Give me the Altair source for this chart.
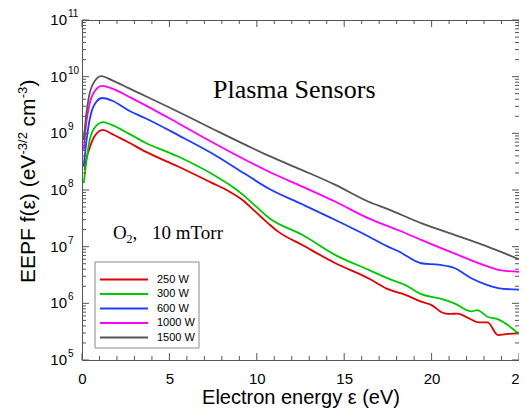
import altair as alt
import pandas as pd

# ---------------- data ----------------
series_names = ["250 W", "300 W", "600 W", "1000 W", "1500 W"]
series_colors = ["#e00000", "#00c800", "#1a3cff", "#ff00ff", "#555555"]

x_250 = [0.15, 0.25, 0.4, 0.7, 1.2, 1.7, 2.7, 3.6, 5.5, 7.4, 8.4, 9.2, 9.9, 10.7, 11.2, 12.6, 14.5,
         16.4, 17.5, 18.5, 19.4, 20.0, 20.6, 21.0, 21.5, 22.1, 22.7, 23.2, 23.8, 24.4, 25.0]
y_250 = [2.24e8, 3.55e8, 5.1e8, 8.7e8, 1.15e9, 9.8e8, 6.8e8, 4.8e8, 2.6e8, 1.35e8, 9.5e7, 6.6e7,
         4.2e7, 2.5e7, 1.86e7, 1.07e7, 5.1e6, 2.75e6, 1.78e6, 1.41e6, 1.07e6, 9.3e5, 6.9e5, 6.5e5,
         6.6e5, 5.5e5, 4.6e5, 4.6e5, 2.75e5, 2.9e5, 2.95e5]

x_300 = [0.1, 0.25, 0.4, 0.7, 1.2, 1.7, 2.7, 3.6, 5.5, 7.4, 8.4, 9.3, 9.9, 10.7, 12.6, 14.5, 16.4,
         17.5, 18.5, 19.4, 20.4, 21.3, 22.3, 22.6, 23.2, 23.8, 25.0]
y_300 = [1.32e8, 3.16e8, 6.6e8, 1.23e9, 1.58e9, 1.41e9, 9.8e8, 6.9e8, 3.9e8, 1.95e8, 1.26e8, 7.8e7,
         5.3e7, 3.2e7, 1.62e7, 7.1e6, 3.9e6, 2.75e6, 2.1e6, 1.45e6, 1.23e6, 1.0e6, 7.2e5, 7.6e5,
         5.8e5, 5.2e5, 2.9e5]

x_600 = [0.1, 0.25, 0.4, 0.7, 1.15, 1.7, 2.7, 3.6, 5.5, 7.4, 9.3, 10.7, 12.6, 14.5, 16.4,
         17.5, 18.1, 19.4, 20.4, 21.3, 22.3, 23.2, 23.8, 25.0]
y_600 = [2.6e8, 7.1e8, 1.51e9, 3.16e9, 4.2e9, 3.8e9, 2.5e9, 1.86e9, 9.3e8, 4.5e8, 1.95e8, 1.05e8,
         5.6e7, 2.95e7, 1.51e7, 1.0e7, 8.3e6, 5.1e6, 4.8e6, 4.2e6, 2.75e6, 2.1e6, 1.86e6, 1.74e6]

x_1000 = [0.1, 0.25, 0.4, 0.7, 1.15, 1.7, 2.7, 5.5, 7.4, 10.7, 12.6, 14.5, 16.4, 17.5, 18.1,
          19.4, 21.3, 23.2, 24.0, 25.0]
y_1000 = [5.1e8, 1.58e9, 2.95e9, 5.4e9, 6.9e9, 6.2e9, 4.4e9, 1.51e9, 7.1e8, 2.1e8, 1.15e8,
          6.2e7, 3.16e7, 2.3e7, 1.95e7, 1.32e7, 7.6e6, 4.5e6, 3.8e6, 3.6e6]

x_1500 = [0.1, 0.25, 0.4, 0.7, 1.1, 1.7, 2.7, 5.5, 7.4, 10.7, 12.6, 14.5, 16.4, 17.5, 19.4,
          21.3, 23.2, 25.0]
y_1500 = [7.6e8, 2.24e9, 4.5e9, 8.1e9, 1.02e10, 8.7e9, 6.2e9, 2.4e9, 1.23e9, 4.0e8, 2.24e8,
          1.23e8, 6.2e7, 4.6e7, 2.6e7, 1.62e7, 1.0e7, 6.0e6]

x_major_ticks = [0, 5, 10, 15, 20, 25]
x_minor_ticks = [v for v in range(0, 26) if v % 5 != 0]
y_exponents = [5, 6, 7, 8, 9, 10, 11]
y_major_ticks = [10.0 ** e for e in y_exponents]
y_minor_ticks = [k * 10.0 ** n for n in range(5, 11) for k in range(2, 10)]

# ---------------- build ----------------
rows = []
for name, xs, ys in zip(series_names,
                        [x_250, x_300, x_600, x_1000, x_1500],
                        [y_250, y_300, y_600, y_1000, y_1500]):
    for a, b in zip(xs, ys):
        rows.append({"energy": a, "eepf": b, "series": name})
df = pd.DataFrame(rows)

W, H = 437, 340
SANS = "Liberation Sans, Arial, sans-serif"
SERIF = "Liberation Serif, Times New Roman, serif"
FRAME = "#555555"

x_scale = alt.Scale(domain=[0, 25], nice=False, zero=False)
y_scale = alt.Scale(type="log", domain=[1e5, 1e11], nice=False)
color_scale = alt.Scale(domain=series_names, range=series_colors)

x_axis = alt.Axis(values=x_major_ticks, ticks=False, domain=False, grid=False,
                  labelFontSize=15, labelFont=SANS, labelColor="black", labelPadding=11,
                  labelFlush=False, title="Electron energy ε (eV)", titleFontSize=20,
                  titleFont=SANS, titleFontWeight="normal", titleColor="black", titlePadding=1)

lines = alt.Chart(df).mark_line(strokeWidth=1.8, interpolate="monotone", clip=True).encode(
    x=alt.X("energy:Q", scale=x_scale, axis=x_axis),
    y=alt.Y("eepf:Q", scale=y_scale, axis=None),
    color=alt.Color("series:N", scale=color_scale, legend=None),
)


def x_tick_layers(vals, length):
    base = alt.Chart(pd.DataFrame({"t": vals})).mark_rule(color=FRAME, strokeWidth=1)
    xenc = alt.X("t:Q", scale=x_scale, axis=x_axis)
    return [
        base.encode(x=xenc, y=alt.value(H), y2=alt.value(H - length)),
        base.encode(x=xenc, y=alt.value(0), y2=alt.value(length)),
    ]


def y_tick_layers(vals, length):
    base = alt.Chart(pd.DataFrame({"t": vals})).mark_rule(color=FRAME, strokeWidth=1)
    yenc = alt.Y("t:Q", scale=y_scale, axis=None)
    return [
        base.encode(y=yenc, x=alt.value(0), x2=alt.value(length)),
        base.encode(y=yenc, x=alt.value(W), x2=alt.value(W - length)),
    ]


ticks = (x_tick_layers(x_major_ticks, 7) + x_tick_layers(x_minor_ticks, 4)
         + y_tick_layers(y_major_ticks, 7) + y_tick_layers(y_minor_ticks, 4))

ylab_df = pd.DataFrame({"v": y_major_ticks, "exp": [str(e) for e in y_exponents]})
ylab_ten = alt.Chart(ylab_df).mark_text(align="right", baseline="middle", fontSize=15,
                                        font=SANS, color="black").encode(
    y=alt.Y("v:Q", scale=y_scale, axis=None), x=alt.value(-15), text=alt.value("10"))
ylab_exp = alt.Chart(ylab_df).mark_text(align="left", baseline="middle", fontSize=10,
                                        font=SANS, color="black", dy=-6).encode(
    y=alt.Y("v:Q", scale=y_scale, axis=None), x=alt.value(-14), text="exp:N")


def label(text, x, y, size, font, **kw):
    return alt.Chart(pd.DataFrame({"t": [text]})).mark_text(
        fontSize=size, font=font, color="black", **kw).encode(
        x=alt.value(x), y=alt.value(y), text="t:N")


# y-axis title pieces (rotated, reading bottom to top)
YT_X = -47
rot = dict(angle=270, align="left", baseline="alphabetic")
ytitle = [
    label("EEPF f(ε) (eV", YT_X, 263, 21, SANS, **rot),
    label("-3/2", YT_X - 8, 134.5, 13, SANS, **rot),
    label("cm", YT_X, 106.5, 21, SANS, **rot),
    label("-3", YT_X - 8, 78.3, 13, SANS, **rot),
    label(")", YT_X, 66.5, 21, SANS, **rot),
]

ann = dict(align="left", baseline="alphabetic")
annots = [
    label("Plasma Sensors", 131, 78, 26, SERIF, **ann),
    label("O", 31, 219, 19, SERIF, **ann),
    label("2", 44.5, 223, 12, SERIF, **ann),
    label(",", 50.5, 219, 19, SERIF, **ann),
    label("10 mTorr", 70, 219, 19, SERIF, **ann),
]

legend_box = alt.Chart(pd.DataFrame({"a": [0]})).mark_rect(
    fill="white", stroke="#888888", strokeWidth=1).encode(
    x=alt.value(13), x2=alt.value(117), y=alt.value(242), y2=alt.value(328))

main = alt.layer(lines, *ticks, ylab_ten, ylab_exp, *ytitle, *annots, legend_box)

leg_y = alt.Scale(type="point", domain=series_names, range=[259.5, 317.5], padding=0)
leg_df = pd.DataFrame({"series": series_names})
leg_lines = alt.Chart(leg_df).mark_rule(strokeWidth=2).encode(
    x=alt.value(18), x2=alt.value(66),
    y=alt.Y("series:N", scale=leg_y, axis=None),
    color=alt.Color("series:N", scale=color_scale, legend=None))
leg_text = alt.Chart(leg_df).mark_text(align="left", baseline="middle", fontSize=11,
                                       font=SANS, color="black").encode(
    x=alt.value(75), y=alt.Y("series:N", scale=leg_y, axis=None), text="series:N")

legend = alt.layer(leg_lines, leg_text)

chart = alt.layer(main, legend).resolve_scale(y="independent").properties(
    width=W, height=H,
    autosize=alt.AutoSizeParams(type="none"),
    padding={"left": 74, "top": 12, "right": 0, "bottom": 51},
    background="white",
).configure_view(stroke=FRAME, strokeWidth=1)

chart.save("out.html", embed_options={"renderer": "svg", "actions": False})
